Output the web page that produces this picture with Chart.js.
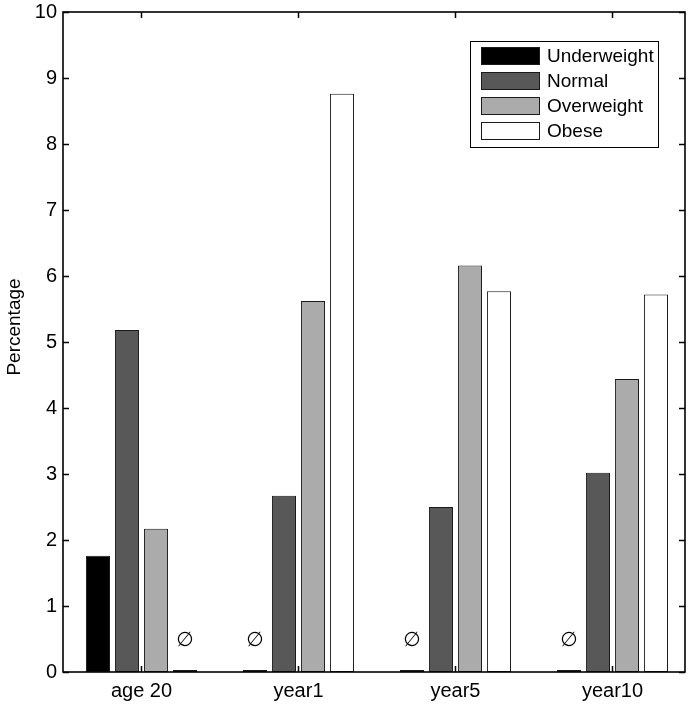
<!DOCTYPE html>
<html>
<head>
<meta charset="utf-8">
<script src="https://cdn.jsdelivr.net/npm/chart.js@4/dist/chart.umd.min.js"></script>
<style>
  html, body { margin: 0; padding: 0; background: #fff; }
  #wrap { width: 694px; height: 704px; }
</style>
</head>
<body>
<div id="wrap"><canvas id="c" width="694" height="704"></canvas></div>
<script>
const categories = ['age 20', 'year1', 'year5', 'year10'];
const seriesNames = ['Underweight', 'Normal', 'Overweight', 'Obese'];
const underweight = [1.76, 0.03, 0.03, 0.03];
const normal = [5.18, 2.67, 2.50, 3.02];
const overweight = [2.17, 5.62, 6.16, 4.44];
const obese = [0.03, 8.76, 5.77, 5.72];
const seriesColors = ['#000000', '#585858', '#ababab', '#ffffff'];
const yTickValues = [0, 1, 2, 3, 4, 5, 6, 7, 8, 9, 10];
const yTitle = 'Percentage';
// [categoryIndex, seriesIndex] of empty (zero) groups marked with ∅
const emptyMarks = [[0, 3], [1, 0], [2, 0], [3, 0]];
const emptySymbol = '\u2205';

const seriesValues = [underweight, normal, overweight, obese];
const FONT = "'Liberation Sans', Arial, Helvetica, sans-serif";

const datasets = seriesNames.map((name, s) => ({
  label: name,
  data: seriesValues[s].map((v, i) => ({ x: i + 1, y: v })),
  backgroundColor: seriesColors[s],
  borderColor: '#1a1a1a',
  borderWidth: 1,
  borderSkipped: false,
  categoryPercentage: 0.739,
  barPercentage: 0.83
}));

const decor = {
  id: 'decor',
  afterDatasetsDraw(chart) {
    const ctx = chart.ctx;
    const a = chart.chartArea;
    const xs = chart.scales.x, ys = chart.scales.y;
    ctx.save();
    // empty markers
    ctx.fillStyle = '#000';
    ctx.font = "20px 'DejaVu Sans', sans-serif";
    ctx.textAlign = 'center';
    ctx.textBaseline = 'middle';
    emptyMarks.forEach(([ci, si]) => {
      const el = chart.getDatasetMeta(si).data[ci];
      ctx.fillText(emptySymbol, el.x, ys.getPixelForValue(0.47));
    });
    // box
    ctx.strokeStyle = '#000';
    ctx.lineWidth = 1.6;
    ctx.strokeRect(a.left, a.top, a.right - a.left, a.bottom - a.top);
    // inward ticks
    ctx.lineWidth = 1.5;
    ctx.beginPath();
    yTickValues.forEach(v => {
      const y = Math.round(ys.getPixelForValue(v)) + 0.5;
      ctx.moveTo(a.left, y); ctx.lineTo(a.left + 6, y);
      ctx.moveTo(a.right, y); ctx.lineTo(a.right - 6, y);
    });
    categories.forEach((c, i) => {
      const x = Math.round(xs.getPixelForValue(i + 1)) + 0.5;
      ctx.moveTo(x, a.bottom); ctx.lineTo(x, a.bottom - 6);
      ctx.moveTo(x, a.top); ctx.lineTo(x, a.top + 6);
    });
    ctx.stroke();
    // y title
    ctx.save();
    ctx.translate(15, 327);
    ctx.rotate(-Math.PI / 2);
    ctx.font = '19px ' + FONT;
    ctx.textAlign = 'center';
    ctx.textBaseline = 'middle';
    ctx.fillStyle = '#000';
    ctx.fillText(yTitle, 0, 0);
    ctx.restore();
    // legend
    const lx = 470, ly = 41, lw = 188, lh = 106;
    ctx.fillStyle = '#fff';
    ctx.fillRect(lx, ly, lw, lh);
    ctx.strokeStyle = '#000';
    ctx.lineWidth = 1;
    ctx.strokeRect(lx + 0.5, ly + 0.5, lw, lh);
    ctx.font = '19px ' + FONT;
    ctx.textAlign = 'left';
    ctx.textBaseline = 'middle';
    chart.data.datasets.forEach((ds, i) => {
      const cy = 56 + i * 25;
      ctx.fillStyle = ds.backgroundColor;
      ctx.fillRect(481, cy - 9, 59, 18);
      ctx.strokeStyle = '#1a1a1a';
      ctx.strokeRect(481.5, cy - 8.5, 58, 17);
      ctx.fillStyle = '#000';
      ctx.fillText(ds.label, 547, cy + 1);
    });
    ctx.restore();
  }
};

new Chart(document.getElementById('c'), {
  type: 'bar',
  data: { datasets },
  options: {
    responsive: false,
    animation: false,
    devicePixelRatio: 1,
    layout: { padding: { top: 12, right: 9, left: 0, bottom: 0 } },
    plugins: { legend: { display: false }, tooltip: { enabled: false } },
    scales: {
      x: {
        type: 'linear',
        offset: false,
        min: 0.5,
        max: 4.462,
        grid: { display: false, drawTicks: false },
        border: { display: false },
        afterBuildTicks: s => { s.ticks = categories.map((c, i) => ({ value: i + 1 })); },
        afterFit: s => { s.height = 32; s.paddingLeft = 0; s.paddingRight = 0; },
        ticks: {
          autoSkip: false,
          maxRotation: 0,
          padding: 7,
          color: '#000',
          font: { family: FONT, size: 20 },
          callback: v => categories[Math.round(v) - 1]
        }
      },
      y: {
        min: 0,
        max: 10,
        grid: { display: false, drawTicks: false },
        border: { display: false },
        afterBuildTicks: s => { s.ticks = yTickValues.map(v => ({ value: v })); },
        afterFit: s => { s.width = 63; s.paddingTop = 0; s.paddingBottom = 0; },
        ticks: {
          padding: 6,
          color: '#000',
          font: { family: FONT, size: 20 }
        }
      }
    }
  },
  plugins: [decor]
});
</script>
</body>
</html>
